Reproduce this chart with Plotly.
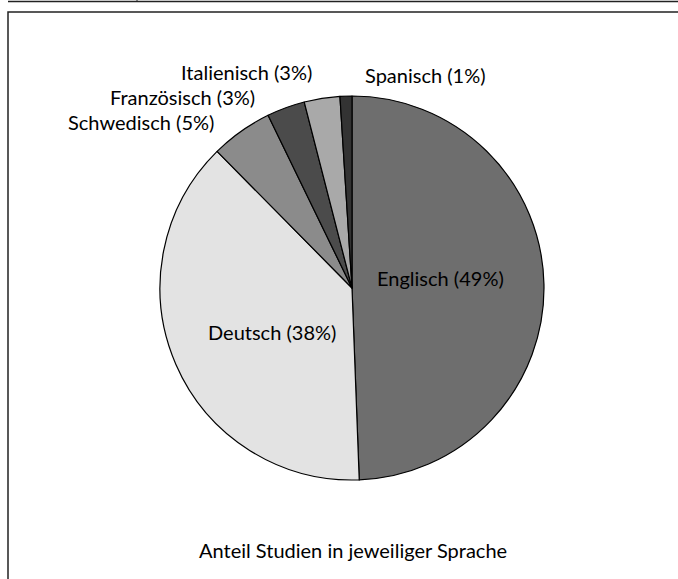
import plotly.graph_objects as go

languages = ["Englisch", "Deutsch", "Schwedisch", "Französisch", "Italienisch", "Spanisch"]
shares = [49.4, 38.2, 5.2, 3.2, 3.0, 1.0]
label_pct = [49, 38, 5, 3, 3, 1]
colors = ["#6e6e6e", "#e3e3e3", "#8b8b8b", "#4b4b4b", "#a9a9a9", "#333333"]
caption = "Anteil Studien in jeweiliger Sprache"

W, H = 678, 579
FONT = "Lato"
FS = 20

texts = [f"{l} ({p}%)" for l, p in zip(languages, label_pct)]

fig = go.Figure(go.Pie(
    labels=languages,
    values=shares,
    sort=False,
    direction="clockwise",
    rotation=0,
    marker=dict(colors=colors, line=dict(color="black", width=1.2)),
    textinfo="none",
    showlegend=False,
    hoverinfo="label+percent",
    domain=dict(x=[(352 - 192) / W, (352 + 192) / W], y=[1 - 480 / H, 1 - 96 / H]),
))

def px(x, y):
    return x / W, 1 - y / H

label_pos = [(440, 278), (272, 332), (141, 122), (183, 97), (246, 72), (425, 75)]
annotations = []
for t, (x, y) in zip(texts, label_pos):
    ax, ay = px(x, y)
    annotations.append(dict(text=t, x=ax, y=ay, xref="paper", yref="paper", showarrow=False,
                            xanchor="center", yanchor="middle",
                            font=dict(family=FONT, size=FS, color="black")))
cx, cy = px(353, 550)
annotations.append(dict(text=caption, x=cx, y=cy, xref="paper", yref="paper", showarrow=False,
                        xanchor="center", yanchor="middle",
                        font=dict(family=FONT, size=FS, color="black")))

shapes = []
x0, y0 = px(8, 12)
x1, y1 = px(690, 600)
shapes.append(dict(type="rect", xref="paper", yref="paper", x0=x0, y0=y1, x1=x1, y1=y0,
                   line=dict(color="#222", width=1.5)))
a, b = px(8, 1.5)
c, _ = px(690, 1.5)
shapes.append(dict(type="line", xref="paper", yref="paper", x0=a, y0=b, x1=c, y1=b,
                   line=dict(color="#222", width=1.5)))
vx, vy0 = px(137, 0)
_, vy1 = px(137, 2)
shapes.append(dict(type="line", xref="paper", yref="paper", x0=vx, y0=vy0, x1=vx, y1=vy1,
                   line=dict(color="#222", width=1)))

fig.update_layout(
    width=W, height=H,
    margin=dict(l=0, r=0, t=0, b=0),
    paper_bgcolor="white",
    plot_bgcolor="white",
    annotations=annotations,
    shapes=shapes,
)

fig.write_html("out.html", config={"displayModeBar": False},
               post_script="document.body.style.margin='0';document.body.style.overflow='hidden';")
